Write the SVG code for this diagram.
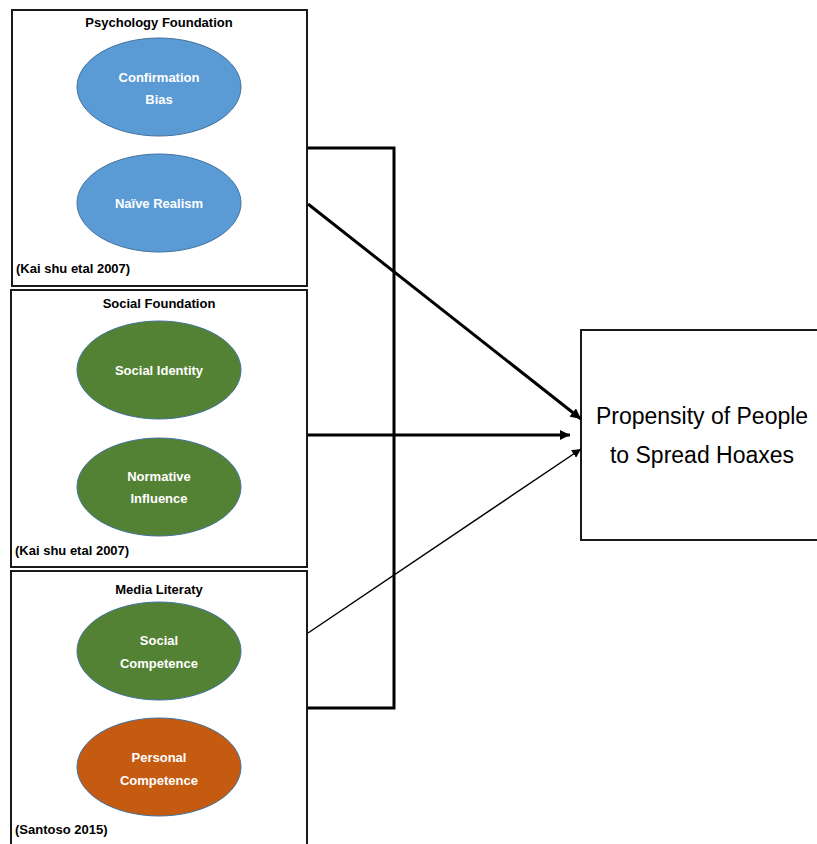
<svg xmlns="http://www.w3.org/2000/svg" width="817" height="844" viewBox="0 0 817 844">
<style>
.panel{fill:#fff;stroke:#1a1a1a;stroke-width:2}
.title{font-family:"Liberation Sans",Arial,sans-serif;font-weight:bold;font-size:13px;fill:#000;text-anchor:middle}
.cite{font-family:"Liberation Sans",Arial,sans-serif;font-weight:bold;font-size:13px;fill:#000}
.ell{stroke:#41719C;stroke-width:1}
.lbl{font-family:"Liberation Sans",Arial,sans-serif;font-weight:bold;font-size:13px;fill:#fff;text-anchor:middle}
.conn{fill:none;stroke:#000}
.big{font-family:"Liberation Sans",Arial,sans-serif;font-size:23px;fill:#000;text-anchor:middle}
</style>
<defs>
<marker id="ah" viewBox="0 0 10 10" refX="10" refY="5" markerWidth="3.5" markerHeight="3.5" markerUnits="strokeWidth" orient="auto">
<path d="M0,0 L10,5 L0,10 z" fill="#000"/>
</marker>
<marker id="ahs" viewBox="0 0 10 10" refX="10" refY="5" markerWidth="6" markerHeight="6" markerUnits="strokeWidth" orient="auto">
<path d="M0,0 L10,5 L0,10 z" fill="#000"/>
</marker>
</defs>
<rect width="817" height="844" fill="#fff"/>
<g id="psychology">
<rect class="panel" x="12" y="10" width="295" height="276"/>
<text class="title" x="159" y="27">Psychology Foundation</text>
<g id="confirmation-bias">
<ellipse class="ell" cx="159" cy="87" rx="82" ry="49" fill="#5B9BD5"/>
<text class="lbl" x="159" y="82">Confirmation</text>
<text class="lbl" x="159" y="104">Bias</text>
</g>
<g id="naive-realism">
<ellipse class="ell" cx="159" cy="203" rx="82" ry="49" fill="#5B9BD5"/>
<text class="lbl" x="159" y="208">Naïve Realism</text>
</g>
<text class="cite" x="16" y="273">(Kai shu etal 2007)</text>
</g>
<g id="social">
<rect class="panel" x="11" y="290" width="296" height="277"/>
<text class="title" x="159" y="308">Social Foundation</text>
<g id="social-identity">
<ellipse class="ell" cx="159" cy="370" rx="82" ry="49" fill="#548235"/>
<text class="lbl" x="159" y="375">Social Identity</text>
</g>
<g id="normative-influence">
<ellipse class="ell" cx="159" cy="487" rx="82" ry="49" fill="#548235"/>
<text class="lbl" x="159" y="481">Normative</text>
<text class="lbl" x="159" y="503">Influence</text>
</g>
<text class="cite" x="15" y="555">(Kai shu etal 2007)</text>
</g>
<g id="media">
<rect class="panel" x="11" y="571" width="296" height="290"/>
<text class="title" x="159" y="594">Media Literaty</text>
<g id="social-competence">
<ellipse class="ell" cx="159" cy="651" rx="82" ry="49" fill="#548235"/>
<text class="lbl" x="159" y="645">Social</text>
<text class="lbl" x="159" y="668">Competence</text>
</g>
<g id="personal-competence">
<ellipse class="ell" cx="159" cy="767" rx="82" ry="49" fill="#C55A11"/>
<text class="lbl" x="159" y="762">Personal</text>
<text class="lbl" x="159" y="785">Competence</text>
</g>
<text class="cite" x="15" y="834">(Santoso 2015)</text>
</g>
<g id="propensity">
<rect class="panel" x="581" y="330" width="260" height="210" stroke-width="2.5"/>
<text class="big" x="702" y="424">Propensity of People</text>
<text class="big" x="702" y="463">to Spread Hoaxes</text>
</g>
<g id="connectors">
<polyline class="conn" stroke-width="3" points="308,148 394,148 394,708 308,708"/>
<line class="conn" stroke-width="3" x1="308" y1="204" x2="581" y2="419" marker-end="url(#ah)"/>
<line class="conn" stroke-width="3" x1="308" y1="435" x2="570" y2="435" marker-end="url(#ah)"/>
<line class="conn" stroke-width="1.5" x1="308" y1="633" x2="581" y2="449" marker-end="url(#ahs)"/>
</g>
</svg>
